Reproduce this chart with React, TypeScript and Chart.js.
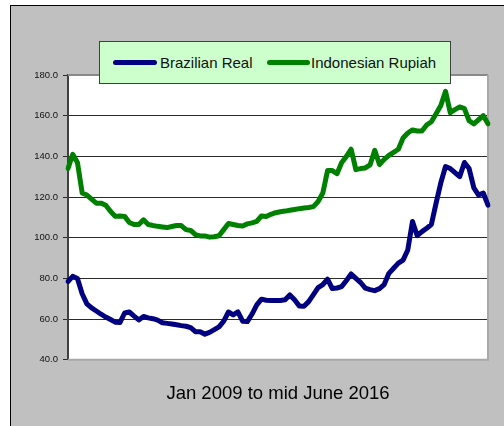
import React, { useEffect, useRef } from "react";
import { Chart, registerables } from "chart.js";

Chart.register(...registerables);

const monthNames = ["Jan", "Feb", "Mar", "Apr", "May", "Jun", "Jul", "Aug", "Sep", "Oct", "Nov", "Dec"];
const years = [2009, 2010, 2011, 2012, 2013, 2014, 2015, 2016];
const categories: string[] = [];
years.forEach((y) => {
  monthNames.forEach((m, mi) => {
    if (y < 2016 || mi < 6) categories.push(`${m} ${y}`);
  });
});

const seriesNames = ["Brazilian Real", "Indonesian Rupiah"];
const seriesColors = ["#000080", "#008000"];

const brazilianReal = [
  78.5, 81, 80, 72.5, 67.5, 65.5, 64, 62.4, 61, 59.8,
  58.5, 58.3, 63, 63.5, 61.5, 59.6, 61.3, 60.6, 60.2, 59.5,
  58.2, 57.9, 57.6, 57.2, 56.8, 56.5, 55.8, 53.8, 53.8, 52.6,
  53.5, 54.8, 56.2, 59, 63.5, 62.1, 63.6, 59, 58.8, 62.5,
  67, 69.8, 69.3, 69.2, 69.1, 69.2, 69.5, 71.9, 69.5, 66.5,
  66.3, 68.6, 72, 75.5, 77, 79.6, 75, 75.3, 76, 79,
  82.2, 80, 78, 75.2, 74.5, 74, 75, 77, 82.5, 85,
  87.5, 89, 94, 108, 101, 103, 104.7, 106.5, 117, 127,
  135, 134, 132, 130, 137, 134, 124.5, 121, 122, 116,
];

const indonesianRupiah = [
  134, 141, 137, 122, 121, 119, 117, 117, 116, 113,
  110.5, 110.7, 110.5, 107.5, 106.5, 106.5, 108.8, 106.5, 106, 105.6,
  105.3, 105, 105.5, 106, 106, 104, 103.6, 101.5, 100.9, 100.9,
  100.3, 100.5, 101, 104, 107, 106.5, 106, 105.8, 106.8, 107.3,
  108, 110.7, 110.4, 111.5, 112.3, 112.8, 113.1, 113.5, 113.9, 114.3,
  114.6, 114.9, 115.3, 117.8, 122, 133, 133, 131.5, 137, 140,
  143.5, 133.5, 134, 134.3, 135.8, 143, 136, 138.5, 140.5, 142,
  143.5, 149, 151.5, 153, 152.5, 152.5, 155.4, 157, 161, 165,
  172, 161.5, 163, 164.3, 163.5, 157.5, 156, 158, 160, 156,
];

const yMin = 40;
const yMax = 180;
const yStep = 20;
const titleText = "Jan 2009 to mid June 2016";

const FONT = "'Liberation Sans', Arial, sans-serif";

const plotFrame = {
  id: "plotFrame",
  beforeDraw(chart: any) {
    const { ctx, chartArea } = chart;
    ctx.save();
    ctx.fillStyle = "#ffffff";
    ctx.fillRect(chartArea.left, chartArea.top, chartArea.right - chartArea.left, chartArea.bottom - chartArea.top);
    ctx.restore();
  },
  beforeDatasetsDraw(chart: any) {
    const { ctx, chartArea } = chart;
    const { left, right, top, bottom } = chartArea;
    ctx.save();
    ctx.lineWidth = 2;
    ctx.strokeStyle = "#8a8a8a";
    ctx.beginPath();
    ctx.moveTo(left, top);
    ctx.lineTo(right, top);
    ctx.stroke();
    ctx.strokeStyle = "#a8a8a8";
    ctx.beginPath();
    ctx.moveTo(right, top);
    ctx.lineTo(right, bottom);
    ctx.lineTo(left, bottom);
    ctx.stroke();
    ctx.restore();
  },
};

export default function App() {
  const canvasRef = useRef<HTMLCanvasElement | null>(null);

  useEffect(() => {
    if (!canvasRef.current) return;
    const chart = new Chart(canvasRef.current, {
      type: "line",
      data: {
        labels: categories,
        datasets: [
          {
            label: seriesNames[0],
            data: brazilianReal,
            borderColor: seriesColors[0],
            backgroundColor: seriesColors[0],
            borderWidth: 5,
            pointRadius: 0,
            tension: 0,
            borderJoinStyle: "round",
            borderCapStyle: "round",
          },
          {
            label: seriesNames[1],
            data: indonesianRupiah,
            borderColor: seriesColors[1],
            backgroundColor: seriesColors[1],
            borderWidth: 5,
            pointRadius: 0,
            tension: 0,
            borderJoinStyle: "round",
            borderCapStyle: "round",
          },
        ],
      },
      options: {
        responsive: false,
        animation: false,
        layout: { padding: { top: 75, right: 16, left: 0, bottom: 0 } },
        plugins: {
          legend: { display: false },
          tooltip: { enabled: false },
          title: {
            display: true,
            text: titleText,
            position: "bottom",
            fullSize: false,
            color: "#000",
            font: { family: FONT, size: 18.5, weight: "normal", lineHeight: 1.2 },
            padding: { top: 23.5, bottom: 20.5 },
          },
        },
        scales: {
          x: { display: false },
          y: {
            min: yMin,
            max: yMax,
            afterFit: (s: any) => {
              s.width = 68;
            },
            ticks: {
              stepSize: yStep,
              padding: 5,
              color: "#111",
              font: { family: FONT, size: 9.5 },
              callback: (v: any) => Number(v).toFixed(1),
            },
            grid: {
              color: "#2a2a2a",
              lineWidth: 1,
              tickLength: 5,
              drawTicks: true,
            },
            border: { display: true, color: "#404040", width: 2 },
          },
        },
      },
      plugins: [plotFrame],
    });
    return () => chart.destroy();
  }, []);

  const legendText: React.CSSProperties = {
    position: "absolute",
    top: 0,
    lineHeight: "41px",
    fontFamily: FONT,
    fontSize: 15,
    color: "#111",
    whiteSpace: "nowrap",
  };
  const sample = (left: number, width: number, color: string): React.CSSProperties => ({
    position: "absolute",
    left,
    top: 18,
    width,
    height: 5,
    borderRadius: 3,
    background: color,
  });

  return (
    <div style={{ position: "fixed", left: 0, top: 0, width: 504, height: 426, overflow: "hidden", background: "#fff" }}>
      <div
        style={{
          position: "absolute",
          left: 10,
          top: 5,
          width: 520,
          height: 440,
          background: "#c0c0c0",
          border: "1px solid #000",
          boxSizing: "border-box",
        }}
      />
      <canvas ref={canvasRef} width={504} height={426} style={{ position: "absolute", left: 0, top: 0 }} />
      <div
        style={{
          position: "absolute",
          left: 99,
          top: 41,
          width: 352,
          height: 43,
          background: "#ccffcc",
          border: "1px solid #404040",
          boxSizing: "border-box",
        }}
      >
        <div style={sample(13, 44, seriesColors[0])} />
        <div style={{ ...legendText, left: 60 }}>{seriesNames[0]}</div>
        <div style={sample(167, 43, seriesColors[1])} />
        <div style={{ ...legendText, left: 211 }}>{seriesNames[1]}</div>
      </div>
    </div>
  );
}
